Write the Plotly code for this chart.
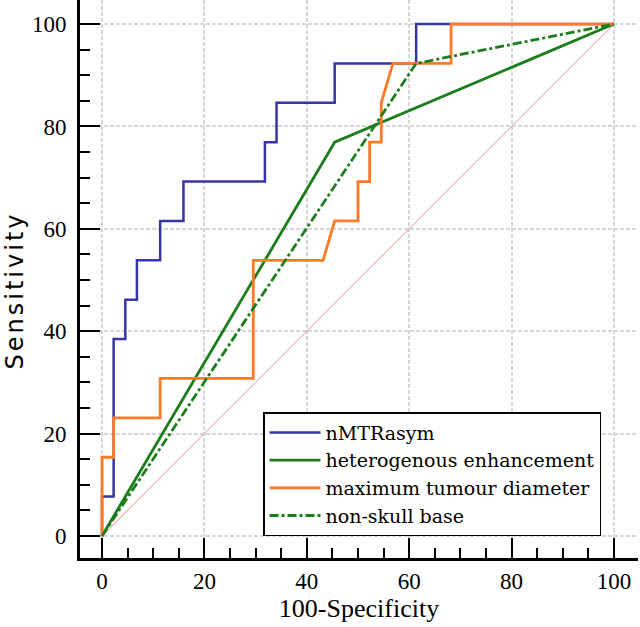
import plotly.graph_objects as go

# ROC data (x = 100-Specificity, y = Sensitivity)
nmtr_x = [0, 0, 2.27, 2.27, 4.55, 4.55, 6.82, 6.82, 11.36, 11.36, 15.91, 15.91,
          31.82, 31.82, 34.09, 34.09, 45.45, 45.45, 61.36, 61.36, 100]
nmtr_y = [0, 7.69, 7.69, 38.46, 38.46, 46.15, 46.15, 53.85, 53.85, 61.54, 61.54, 69.23,
          69.23, 76.92, 76.92, 84.62, 84.62, 92.31, 92.31, 100, 100]

hetero_x = [0, 45.45, 100]
hetero_y = [0, 76.92, 100]

diam_x = [0, 0, 2.27, 2.27, 11.36, 11.36, 29.55, 29.55, 43.18, 45.45, 50.0, 50.0,
          52.27, 52.27, 54.55, 54.55, 56.82, 68.18, 68.18, 100]
diam_y = [0, 15.38, 15.38, 23.08, 23.08, 30.77, 30.77, 53.85, 53.85, 61.54, 61.54, 69.23,
          69.23, 76.92, 76.92, 84.62, 92.31, 92.31, 100, 100]

skull_x = [0, 61.36, 100]
skull_y = [0, 92.31, 100]

diag_x = [0, 100]
diag_y = [0, 100]

tick_vals = [0, 20, 40, 60, 80, 100]

SERIF = "Liberation Serif, Times New Roman, serif"

fig = go.Figure()
fig.add_trace(go.Scatter(x=diag_x, y=diag_y, mode="lines", showlegend=False,
                         line=dict(color="#e3b5b5", width=1.2), hoverinfo="skip"))
fig.add_trace(go.Scatter(x=nmtr_x, y=nmtr_y, mode="lines", name="nMTRasym",
                         line=dict(color="#3535a5", width=2.5)))
fig.add_trace(go.Scatter(x=hetero_x, y=hetero_y, mode="lines", name="heterogenous enhancement",
                         line=dict(color="#1b7d1b", width=2.8)))
fig.add_trace(go.Scatter(x=diam_x, y=diam_y, mode="lines", name="maximum tumour diameter",
                         line=dict(color="#ff7a28", width=2.8)))
fig.add_trace(go.Scatter(x=skull_x, y=skull_y, mode="lines", name="non-skull base",
                         line=dict(color="#1b7d1b", width=2.8, dash="dashdot")))

axis_common = dict(
    range=[-4.3, 104.7],
    tickmode="array",
    tickvals=tick_vals,
    ticks="inside",
    ticklen=20,
    tickwidth=2,
    tickcolor="black",
    showline=True,
    linecolor="black",
    linewidth=3,
    showgrid=True,
    gridcolor="#d6d6d6",
    gridwidth=1.5,
    griddash="4px,2px",
    zeroline=False,
    automargin=False,
    tickfont=dict(family=SERIF, size=23, color="black"),
    minor=dict(ticks="inside", ticklen=10, tickwidth=2, tickcolor="black",
               dtick=5, showgrid=False),
    fixedrange=True,
)

fig.update_xaxes(**axis_common, ticklabelstandoff=0,
                 title=dict(text="100-Specificity", font=dict(family=SERIF, size=26, color="black"),
                            standoff=6))
fig.update_yaxes(**axis_common, ticklabelstandoff=6)

fig.add_annotation(
    text="<span style='letter-spacing:3px'>Sensitivity</span>",
    xref="paper", yref="paper", x=-0.116, y=0.48,
    xanchor="center", yanchor="middle", textangle=-90, showarrow=False,
    font=dict(family="DejaVu Sans, sans-serif", size=24, color="black"),
)

fig.update_layout(
    width=640, height=627,
    margin=dict(l=80, r=2, t=0, b=69),
    paper_bgcolor="white",
    plot_bgcolor="white",
    showlegend=True,
    legend=dict(
        x=0.328, y=0.2616, xanchor="left", yanchor="top",
        bgcolor="white", bordercolor="black", borderwidth=1.5,
        font=dict(family="DejaVu Serif, serif", size=19, color="black"),
        itemwidth=51,
        traceorder="normal",
    ),
)

fig.write_html("out.html", config={"displayModeBar": False},
               post_script="document.body.style.margin='0px';")
